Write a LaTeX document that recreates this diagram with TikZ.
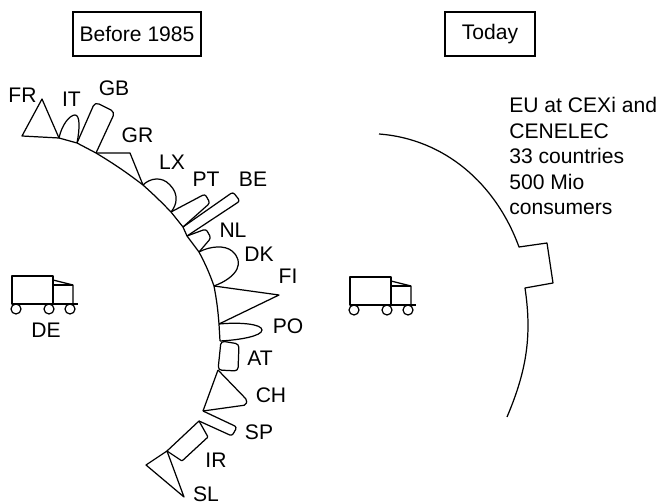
\documentclass[tikz,border=0pt]{standalone}
\usepackage{fontspec}
\setmainfont{Liberation Sans}
\begin{document}
\begin{tikzpicture}[x=0.02cm,y=-0.02cm,
    outline/.style={line width=0.7pt,line join=round},
    titlebox/.style={draw,line width=0.7pt,inner sep=0pt,minimum height=0.88cm},
    country/.style={inner sep=0pt,font=\fontsize{12}{14.5}\selectfont}]
    \useasboundingbox (0,0) rectangle (660,503);
    % Titles
    \node[titlebox,country,minimum width=2.56cm] (before) at (137,34) {Before 1985};
    \node[titlebox,country,minimum width=1.80cm] (today) at (490,34) {Today};
    % Junctions on the old border
    \coordinate (j1) at (59,138);
    \coordinate (j2) at (77,143);
    \coordinate (j3) at (96,153);
    \coordinate (j4) at (143,185);
    \coordinate (j5) at (171,212);
    \coordinate (j6) at (183,227);
    \coordinate (j7) at (187,236);
    \coordinate (j8) at (199,252);
    \coordinate (j9) at (214,286);
    \coordinate (j10) at (219,324);
    \coordinate (j11) at (220,341);
    \coordinate (j12) at (218,370);
    \coordinate (j13) at (203,411);
    \coordinate (j14) at (199,421);
    \coordinate (j15) at (167,451);
    % Old border
    \draw[outline] (j1)--(j2)--(j3) to[bend left=3] (j4) to[bend left=2] (j5)--(j6)--(j7)--(j8)
      to[bend left=4] (j9) to[bend left=3] (j10)--(j11);
    \draw[outline] (j12)--(j13);
    \draw[outline] (j14)--(j15);
    % Countries
    \draw[outline] (j1)--(42,99)--(22,136)--cycle;
    \draw[outline] (j1) .. controls (62,124) and (70,115) .. (75,115)
      .. controls (80,115) and (80,128) .. (j2);
    \draw[outline,rounded corners=2.5pt] (j2)--(95,102)--(115,112)--(j3);
    \draw[outline] (j3)--(130,153)--(j4);
    \draw[outline] (j4) .. controls (150,178) and (162,176) .. (170,185)
      .. controls (179,194) and (177,205) .. (j5);
    \draw[outline,rounded corners=1.5pt] (j5)--(205,194)--(210,203)--(j6);
    \draw[outline,rounded corners=1.5pt] (j6)--(233,192)--(240,201)--(j7);
    \draw[outline,rounded corners=1.5pt] (j7)--(206,229)--(211,238)--(j8);
    \draw[outline] (j8) .. controls (210,246) and (225,245) .. (232,251)
      .. controls (245,262) and (238,277) .. (j9);
    \draw[outline] (j9)--(279,295)--(j10);
    \draw[outline] (j10) .. controls (240,322) and (262,324) .. (262,330)
      .. controls (262,336) and (240,340) .. (j11);
    \draw[outline,rounded corners=2pt] (221,341)--(239,344)--(238,371)--(j12)--cycle;
    \draw[outline,rounded corners=1pt] (j12)--(247,400)--(246,405)--(j13);
    \draw[outline,rounded corners=1.5pt] (j13)--(237,427)--(232,436)--(j14);
    \draw[outline,rounded corners=0.5pt] (j14)--(208,437)--(182,461)--(j15);
    \draw[outline] (j15)--(146,465)--(184,497)--cycle;
    % Labels
    \node[country] (fr) at (22.5,95) {FR};
    \node[country] (it) at (71.5,99) {IT};
    \node[country] (gb) at (114,88) {GB};
    \node[country] (gr) at (137.5,135) {GR};
    \node[country] (lx) at (172,162) {LX};
    \node[country] (pt) at (206,179) {PT};
    \node[country] (be) at (253,179) {BE};
    \node[country] (nl) at (233,230) {NL};
    \node[country] (dk) at (259,254) {DK};
    \node[country] (fi) at (288,276) {FI};
    \node[country] (po) at (288,326) {PO};
    \node[country] (at) at (260,358) {AT};
    \node[country] (ch) at (271,395) {CH};
    \node[country] (sp) at (259,432) {SP};
    \node[country] (ir) at (216,460) {IR};
    \node[country] (sl) at (206,494) {SL};
    \node[country] (de) at (46,330) {DE};
    % Trucks
    \foreach \dx/\dy in {0/0,338/1}{
      \begin{scope}[shift={(\dx,\dy)}]
        \draw[outline] (12,276) rectangle (53,304);
        \draw[outline] (53,280)--(73,285)--(73,304);
        \draw[outline] (53,285)--(73,285);
        \draw[outline] (12,304)--(78,304);
        \foreach \w in {16,49,70}{
          \draw[outline] (\w,309) circle(5);
        }
      \end{scope}
    }
    % New border
    \coordinate (t1) at (379,134);
    \coordinate (t2) at (519,247);
    \coordinate (t3) at (525,288);
    \coordinate (t4) at (507,417);
    \draw[outline] (t1) .. controls (445,139) and (496,184) .. (t2)
      --(547,243)--(553,283)--(t3)
      .. controls (532,335) and (527,370) .. (t4);
    \node[country,align=left,anchor=north west] (eu) at (509,97)
      {EU at CEXi and\\CENELEC\\33 countries\\500 Mio\\consumers};
\end{tikzpicture}
\end{document}
